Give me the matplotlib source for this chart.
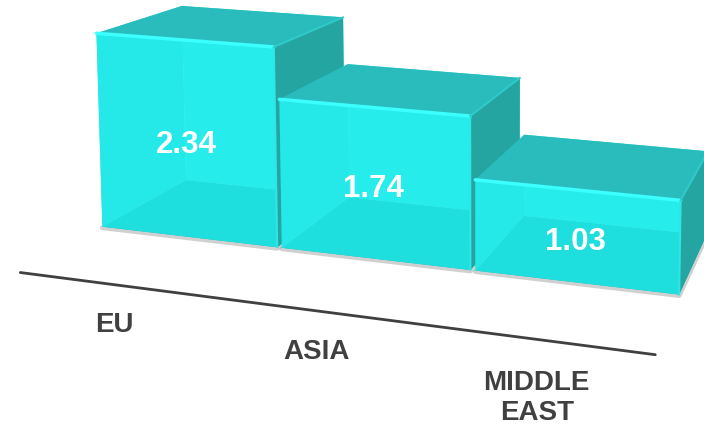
import numpy as np
import matplotlib
matplotlib.use('Agg')
import matplotlib.pyplot as plt
from matplotlib.patches import Polygon
from matplotlib.transforms import offset_copy

# ---- data ----
categories = ['EU', 'ASIA', 'MIDDLE\nEAST']
values = [2.34, 1.74, 1.03]
value_labels = ['2.34', '1.74', '1.03']

# ---- perspective "scale": world (category x, value y, depth z) -> pixels ----
VIEW = np.array([
    [169.30107, -3.15594, 104.85841, 102.35014],
    [12.14057, -82.88162, -26.21735, 226.72424],
    [-0.03620, -0.00645, 0.11389, 1.00000],
])
BAR_W = 0.975      # bar width in category units
BAR_D = 1.0        # bar depth
AXIS_Z = -0.8      # depth of the category axis line
LABEL_Y = -0.41    # label height below the floor on the axis plane
LINE_PT = 21.6     # line step of multi-line labels (points)


def proj(X, Y, Z):
    h = VIEW @ np.array([X, Y, Z, 1.0])
    return h[0] / h[2], h[1] / h[2]


fig = plt.figure(figsize=(7.04, 4.28), dpi=100)
ax = fig.add_axes([0, 0, 1, 1])
ax.set_xlim(0, 704)
ax.set_ylim(428, 0)
ax.axis('off')

# category axis line
n = len(categories)
(ux0, vy0), (ux1, vy1) = proj(0, 0, AXIS_Z), proj(n - 0.01, 0, AXIS_Z)
ax.plot([ux0, ux1], [vy0, vy1], color='#404040', lw=2, solid_capstyle='round', zorder=1)

cols = {'back': '#1EE2E2', 'left': '#17D2D2', 'bottom': '#00AAAA',
        'right': '#25A5A1', 'top': '#2ABCBC', 'front': '#2AF0F0'}
alph = {'back': 1, 'left': 1, 'bottom': 1, 'right': 1, 'top': 1, 'front': 0.75}

val_tr = offset_copy(ax.transData, fig=fig, x=0, y=-1.5, units='points')

for i, v in enumerate(values):
    x0, x1 = i, i + BAR_W
    z0, z1 = 0, BAR_D
    faces = {
        'back': [(x0, 0, z1), (x1, 0, z1), (x1, v, z1), (x0, v, z1)],
        'left': [(x0, 0, z0), (x0, 0, z1), (x0, v, z1), (x0, v, z0)],
        'bottom': [(x0, 0, z0), (x1, 0, z0), (x1, 0, z1), (x0, 0, z1)],
        'right': [(x1, 0, z0), (x1, 0, z1), (x1, v, z1), (x1, v, z0)],
        'top': [(x0, v, z0), (x1, v, z0), (x1, v, z1), (x0, v, z1)],
        'front': [(x0, 0, z0), (x1, 0, z0), (x1, v, z0), (x0, v, z0)],
    }
    zb = 2 + i * 10
    # soft shadow along the floor edges
    sh = [proj(x0, 0, z0), proj(x1, 0, z0), proj(x1, 0, z1)]
    ax.plot([p[0] for p in sh], [p[1] + 1.0 for p in sh], color='#8A8A8A', alpha=0.4,
            lw=3.5, solid_capstyle='round', solid_joinstyle='round', zorder=zb)
    for k, name in enumerate(['back', 'left', 'bottom', 'right', 'top', 'front']):
        ax.add_patch(Polygon([proj(*p) for p in faces[name]], closed=True,
                             facecolor=cols[name], alpha=alph[name], edgecolor='none',
                             zorder=zb + 1 + k * 0.1))
    # bevel highlights
    e = [proj(x0, v, z0), proj(x1, v, z0)]
    ax.plot([p[0] for p in e], [p[1] for p in e], color='#3CFFFF', lw=2.5,
            solid_capstyle='round', zorder=zb + 2)
    e = [proj(x1, v, z0), proj(x1, 0, z0)]
    ax.plot([p[0] for p in e], [p[1] for p in e], color='#2EE6E6', lw=1.5,
            solid_capstyle='round', zorder=zb + 2)
    e = [proj(x1, v, z0), proj(x1, v, z1)]
    ax.plot([p[0] for p in e], [p[1] for p in e], color='#2FC9C9', lw=1.5,
            solid_capstyle='round', zorder=zb + 2)
    cx, cy = proj(x0 + BAR_W / 2, v / 2, z0)
    ax.text(cx, cy, value_labels[i], color='white', fontsize=22.5, fontweight='bold',
            family='Liberation Sans', ha='center', va='center_baseline',
            transform=val_tr, zorder=zb + 3)

for i, lab in enumerate(categories):
    lx, ly = proj(i + BAR_W / 2, LABEL_Y, AXIS_Z)
    for j, line in enumerate(lab.split('\n')):
        tr = offset_copy(ax.transData, fig=fig, x=0, y=-j * LINE_PT, units='points')
        ax.text(lx, ly, line, color='#404040', fontsize=20, fontweight='bold',
                family='Liberation Sans', ha='center', va='center_baseline',
                transform=tr, zorder=50)

fig.savefig('out.png', dpi=100)
